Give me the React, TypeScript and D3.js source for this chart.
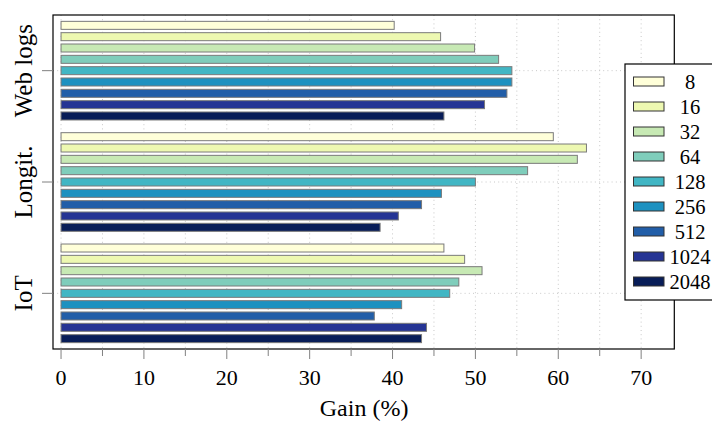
import React from "react";
import * as d3 from "d3";

const categories = ["IoT", "Longit.", "Web logs"];
const seriesNames = ["8", "16", "32", "64", "128", "256", "512", "1024", "2048"];
const colors = ["#ffffd9", "#edf8b1", "#c7e9b4", "#7fcdbb", "#41b6c4", "#1d91c0", "#225ea8", "#253494", "#081d58"];
// values per series, ordered as categories [IoT, Longit., Web logs]
const v8 = [46.2, 59.4, 40.2];
const v16 = [48.7, 63.4, 45.8];
const v32 = [50.8, 62.3, 49.9];
const v64 = [48.0, 56.3, 52.8];
const v128 = [46.9, 50.0, 54.4];
const v256 = [41.1, 45.9, 54.4];
const v512 = [37.8, 43.5, 53.8];
const v1024 = [44.1, 40.7, 51.1];
const v2048 = [43.5, 38.5, 46.2];
const seriesValues = [v8, v16, v32, v64, v128, v256, v512, v1024, v2048];
const xTicksMajor = [0, 10, 20, 30, 40, 50, 60, 70];
const xTicksMinor = [5, 15, 25, 35, 45, 55, 65];

const W = 712;
const H = 423;
const L = 53, R = 674.3, T = 15, B = 349;
const FONT = "Liberation Serif, DejaVu Serif, serif";

export default function App() {
  const x = d3.scaleLinear().domain([-0.97, 74.0]).range([L, R]);
  const y = d3.scaleLinear().domain([-0.5, 2.5]).range([B, T]);
  const barStepPx = 11.33;
  const barH = 8;
  const n = seriesNames.length;
  const gridTicks = [...xTicksMajor, ...xTicksMinor];

  return (
    <svg width={W} height={H} style={{ position: "absolute", left: 0, top: 0, background: "#fff", fontFamily: FONT }}>
      <rect x={0} y={0} width={W} height={H} fill="#fff" />
      {/* grid */}
      {gridTicks.map((t) => (
        <line key={"gx" + t} x1={x(t)} x2={x(t)} y1={T} y2={B} stroke="#c8c8c8" strokeWidth={1} strokeDasharray="1 3.2" />
      ))}
      {categories.map((c, ci) => (
        <line key={"gy" + c} x1={L} x2={R} y1={y(ci)} y2={y(ci)} stroke="#c8c8c8" strokeWidth={1} strokeDasharray="1 3.2" />
      ))}
      {/* bars */}
      {seriesValues.map((vals, si) =>
        vals.map((v, ci) => {
          const cy = y(ci) + (si - (n - 1) / 2) * barStepPx;
          return (
            <rect
              key={`b${si}-${ci}`}
              x={x(0)}
              y={cy - barH / 2}
              width={x(v) - x(0)}
              height={barH}
              fill={colors[si]}
              stroke="#7a7a7a"
              strokeWidth={1}
            />
          );
        })
      )}
      {/* frame */}
      <rect x={L} y={T} width={R - L} height={B - T} fill="none" stroke="#000" strokeWidth={1.2} />
      {/* x ticks */}
      {xTicksMajor.map((t) => (
        <g key={"xt" + t}>
          <line x1={x(t)} x2={x(t)} y1={B} y2={B + 10} stroke="#808080" strokeWidth={1} />
          <text x={x(t)} y={385} textAnchor="middle" fontSize={22} fill="#000">{t}</text>
        </g>
      ))}
      {xTicksMinor.map((t) => (
        <line key={"xm" + t} x1={x(t)} x2={x(t)} y1={B} y2={B + 7} stroke="#808080" strokeWidth={1} />
      ))}
      {/* y ticks + labels */}
      {categories.map((c, ci) => (
        <g key={"yt" + c}>
          <line x1={L - 11} x2={L} y1={y(ci)} y2={y(ci)} stroke="#808080" strokeWidth={1} />
          <text transform={`translate(32,${y(ci)}) rotate(-90)`} textAnchor="middle" fontSize={25} fill="#000">{c}</text>
        </g>
      ))}
      <text x={(x(0) + x(70)) / 2 + 13} y={416} textAnchor="middle" fontSize={24} fill="#000">Gain (%)</text>
      {/* legend */}
      <rect x={625} y={64} width={95} height={236} fill="#fff" stroke="#000" strokeWidth={1.2} />
      {seriesNames.map((s, si) => {
        const cy = 81.5 + si * 25;
        return (
          <g key={"lg" + s}>
            <rect x={633.5} y={cy - 4.5} width={30.5} height={9} fill={colors[si]} stroke="#333" strokeWidth={1} />
            <text x={690} y={cy + 7} textAnchor="middle" fontSize={20.5} fill="#000">{s}</text>
          </g>
        );
      })}
    </svg>
  );
}
